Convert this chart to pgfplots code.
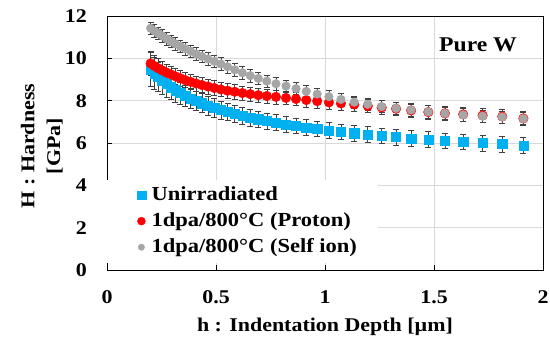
\documentclass[border=0pt]{standalone}
\usepackage{pgfplots}
\pgfplotsset{compat=1.18}
\usepackage{pgfplotstable}
\usepackage{fontspec}
\setmainfont{Liberation Serif}[FakeStretch=1.13]
\definecolor{cblue}{HTML}{00B0F0}
\definecolor{cred}{HTML}{FF0000}
\definecolor{cgray}{HTML}{A6A6A6}
\definecolor{cgrid}{HTML}{D9D9D9}
\definecolor{cerr}{HTML}{404040}
\pgfplotstableread{
x u ue p pe s se
0.200 9.49 0.80 9.76 0.55 11.42 0.30
0.217 9.30 0.75 9.64 0.50 11.30 0.30
0.235 9.12 0.70 9.53 0.45 11.18 0.30
0.253 8.95 0.66 9.43 0.42 11.06 0.30
0.273 8.79 0.62 9.33 0.40 10.93 0.30
0.293 8.64 0.58 9.24 0.38 10.80 0.30
0.314 8.49 0.55 9.15 0.37 10.68 0.30
0.336 8.36 0.52 9.06 0.36 10.57 0.30
0.359 8.23 0.50 8.97 0.35 10.45 0.30
0.384 8.10 0.48 8.89 0.35 10.33 0.30
0.409 7.99 0.46 8.81 0.35 10.21 0.30
0.435 7.88 0.45 8.74 0.35 10.09 0.30
0.463 7.77 0.44 8.67 0.35 9.97 0.30
0.492 7.66 0.43 8.60 0.34 9.86 0.30
0.522 7.56 0.42 8.53 0.34 9.73 0.30
0.553 7.47 0.41 8.47 0.34 9.60 0.30
0.586 7.38 0.40 8.42 0.34 9.46 0.30
0.621 7.29 0.40 8.36 0.33 9.32 0.30
0.657 7.20 0.39 8.31 0.33 9.18 0.30
0.694 7.12 0.39 8.26 0.33 9.05 0.30
0.733 7.04 0.38 8.22 0.33 8.92 0.30
0.775 6.96 0.38 8.18 0.33 8.80 0.30
0.821 6.88 0.37 8.13 0.32 8.69 0.29
0.867 6.81 0.37 8.08 0.32 8.57 0.29
0.914 6.74 0.37 8.03 0.32 8.44 0.29
0.964 6.67 0.37 7.98 0.32 8.31 0.29
1.018 6.60 0.37 7.92 0.32 8.19 0.29
1.073 6.53 0.37 7.87 0.32 8.06 0.29
1.134 6.46 0.37 7.82 0.32 7.93 0.29
1.196 6.40 0.37 7.75 0.32 7.83 0.29
1.260 6.34 0.37 7.68 0.32 7.72 0.29
1.326 6.28 0.37 7.62 0.32 7.64 0.29
1.395 6.22 0.37 7.54 0.32 7.56 0.29
1.474 6.16 0.37 7.46 0.32 7.47 0.29
1.550 6.11 0.37 7.40 0.32 7.40 0.29
1.634 6.05 0.37 7.35 0.32 7.33 0.29
1.723 6.00 0.37 7.30 0.32 7.27 0.29
1.813 5.95 0.37 7.25 0.32 7.23 0.29
1.910 5.89 0.37 7.16 0.32 7.15 0.29
}\data
\begin{document}
\begin{tikzpicture}[x=1bp,y=1bp]
\path[use as bounding box] (0,0) rectangle (550,336);
\begin{axis}[
  at={(107bp,66bp)}, anchor=south west,
  scale only axis, width=436bp, height=254bp,
  xmin=0, xmax=2, ymin=0, ymax=12,
  xtick={0,0.5,1,1.5,2}, ytick={0,2,4,6,8,10,12},
  xticklabels={0,0.5,1,1.5,2},
  grid=major, grid style={color=cgrid, line width=0.8pt},
  axis line style={black, line width=0.9pt},
  tick align=inside, tick pos=left, major tick length=5bp,
  tick style={black, line width=0.7pt},
  /pgf/number format/assume math mode=true,
  ticklabel style={font=\bfseries\fontsize{19.5}{23}\selectfont, inner sep=0pt},
  xticklabel style={yshift=-20bp},
  yticklabel style={xshift=-20bp},
  xlabel={h : Indentation Depth [µm]},
  xlabel style={at={(rel axis cs:0.5,0)}, anchor=north, yshift=-48bp, inner sep=0pt, font=\bfseries\fontsize{19.5}{23}\selectfont},
  ylabel={H : Hardness\\\relax [GPa]},
  ylabel style={at={(rel axis cs:-0.101,0.488)}, anchor=south, align=center, inner sep=0pt, font=\bfseries\fontsize{19.5}{26}\selectfont},
  legend cell align=left,
  legend style={at={(rel axis cs:0,0.028)}, anchor=south west, fill=white, draw=none,
    inner xsep=0pt, inner ysep=3.5bp, row sep=2bp,
    font=\bfseries\fontsize{20}{24}\selectfont,
    nodes={inner sep=2bp, text depth=5bp, text height=15bp}},
  legend image code/.code={\path (0bp,0bp) (42bp,0bp); \draw[#1] plot coordinates {(34bp,0bp)};},
  error bars/error bar style={color=cerr, line width=0.6pt},
  error bars/error mark options={rotate=90, mark size=3bp, line width=0.6pt, color=cerr},
]
\addplot[only marks, mark=square*, mark size=4.6bp, color=cblue, mark options={fill=cblue, draw=cblue},
  legend image post style={mark size=4.3bp},
  error bars/.cd, y dir=both, y explicit]
  table[x=x, y=u, y error=ue] {\data};
\addlegendentry{\makebox[224bp][l]{Unirradiated}}
\addplot[only marks, mark=*, mark size=4.8bp, color=cred, mark options={fill=cred, draw=cred},
  legend image post style={mark size=4bp},
  error bars/.cd, y dir=both, y explicit]
  table[x=x, y=p, y error=pe] {\data};
\addlegendentry{\makebox[224bp][l]{1dpa/800°C (Proton)}}
\addplot[only marks, mark=*, mark size=4.3bp, color=cgray, mark options={fill=cgray, draw=cgray},
  legend image post style={mark size=3.2bp},
  error bars/.cd, y dir=both, y explicit]
  table[x=x, y=s, y error=se] {\data};
\addlegendentry{\makebox[224bp][l]{1dpa/800°C (Self ion)}}
\node[fill=white, inner xsep=4bp, inner ysep=6bp, font=\bfseries\fontsize{21}{25}\selectfont] at (axis cs:1.702,10.63) {Pure W};
\end{axis}
\end{tikzpicture}
\end{document}
